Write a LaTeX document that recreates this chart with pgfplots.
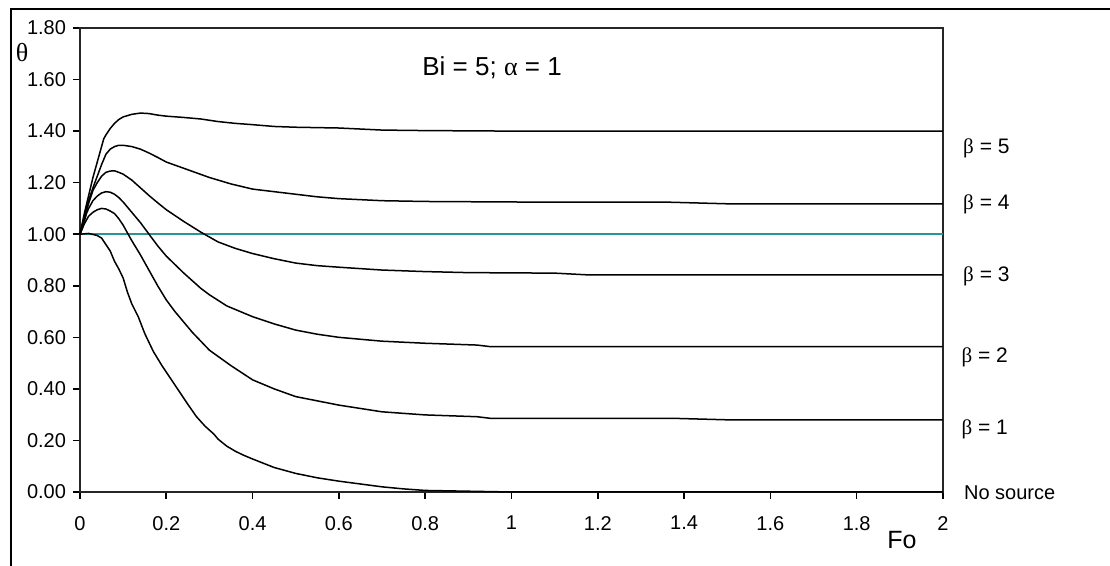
\documentclass[border=0pt]{standalone}
\usepackage{fontspec}
\setmainfont{Liberation Sans}
\newfontfamily\grk{Liberation Serif}
\usepackage{pgfplots}
\pgfplotsset{compat=1.18}
\definecolor{tealline}{RGB}{40,150,150}
\tikzset{curve/.style={black, line width=0.75pt, mark=none}}

\begin{document}
\begin{tikzpicture}
\useasboundingbox (-40pt,-37pt) rectangle (515pt,246pt);
\draw[line width=1pt] (-34.5pt,-40pt) -- (-34.5pt,241.5pt) -- (520pt,241.5pt);
\begin{axis}[
  scale only axis, width=431.5pt, height=232pt,
  xmin=0, xmax=2, ymin=0, ymax=1.8,
  xtick={0,0.2,0.4,0.6,0.8,1,1.2,1.4,1.6,1.8,2},
  ytick={0,0.2,0.4,0.6,0.8,1,1.2,1.4,1.6,1.8},
  tick align=outside, major tick length=3.5pt,
  xtick pos=bottom, ytick pos=left,
  axis line style={line width=1pt, black!85},
  tick style={line width=0.8pt, black},
  /pgf/number format/assume math mode=true,
  ticklabel style={font=\fontsize{10}{11}\selectfont},
  yticklabel style={/pgf/number format/.cd, fixed, fixed zerofill, precision=2},
  xticklabel style={yshift=-5pt, /pgf/number format/.cd, fixed, precision=1},
  clip=false,
]
% reference line
\addplot[tealline, line width=1.1pt, mark=none] coordinates {(0,1) (2,1)};
% no source
\addplot[curve] coordinates {(0,1.0) (0.02,1.003) (0.04,0.995) (0.05,0.985) (0.06,0.96) (0.07,0.935) (0.08,0.895) (0.09,0.865) (0.1,0.83) (0.11,0.775) (0.12,0.73) (0.135,0.68) (0.15,0.615) (0.17,0.545) (0.19,0.49) (0.21,0.44) (0.23,0.39) (0.25,0.34) (0.27,0.292) (0.29,0.255) (0.31,0.225) (0.32,0.205) (0.34,0.178) (0.36,0.158) (0.38,0.142) (0.4,0.128) (0.45,0.095) (0.5,0.072) (0.55,0.055) (0.6,0.042) (0.65,0.031) (0.7,0.02) (0.75,0.012) (0.8,0.006) (0.9,0.003) (1.0,0.0) (2.0,0.0)};
% beta = 1
\addplot[curve] coordinates {(0,1.0) (0.01,1.04) (0.02,1.07) (0.03,1.085) (0.04,1.095) (0.05,1.1) (0.06,1.098) (0.07,1.09) (0.08,1.08) (0.09,1.06) (0.1,1.035) (0.12,0.975) (0.14,0.92) (0.16,0.86) (0.18,0.8) (0.2,0.745) (0.22,0.7) (0.24,0.66) (0.26,0.62) (0.28,0.585) (0.3,0.55) (0.35,0.49) (0.4,0.435) (0.45,0.4) (0.5,0.37) (0.6,0.337) (0.7,0.311) (0.8,0.299) (0.92,0.292) (0.95,0.286) (1.37,0.286) (1.5,0.28) (2.0,0.28)};
% beta = 2
\addplot[curve] coordinates {(0,1.0) (0.005,1.025) (0.01,1.05) (0.015,1.08) (0.02,1.1) (0.03,1.13) (0.04,1.148) (0.05,1.16) (0.06,1.165) (0.07,1.163) (0.08,1.155) (0.09,1.142) (0.1,1.125) (0.12,1.085) (0.14,1.045) (0.16,1.0) (0.18,0.955) (0.2,0.915) (0.24,0.85) (0.28,0.79) (0.3,0.765) (0.34,0.722) (0.4,0.68) (0.45,0.652) (0.5,0.628) (0.55,0.612) (0.6,0.6) (0.7,0.585) (0.8,0.577) (0.92,0.57) (0.95,0.564) (2.0,0.564)};
% beta = 3
\addplot[curve] coordinates {(0,1.0) (0.005,1.03) (0.01,1.06) (0.02,1.12) (0.03,1.17) (0.04,1.2) (0.05,1.225) (0.06,1.24) (0.07,1.245) (0.08,1.246) (0.09,1.24) (0.1,1.233) (0.12,1.21) (0.14,1.18) (0.16,1.15) (0.18,1.122) (0.2,1.095) (0.24,1.05) (0.28,1.008) (0.32,0.97) (0.36,0.945) (0.4,0.925) (0.45,0.905) (0.5,0.888) (0.55,0.878) (0.6,0.872) (0.7,0.861) (0.8,0.855) (0.9,0.851) (1.1,0.849) (1.18,0.842) (2.0,0.842)};
% beta = 4
\addplot[curve] coordinates {(0,1.0) (0.005,1.035) (0.01,1.07) (0.02,1.13) (0.03,1.18) (0.04,1.225) (0.05,1.27) (0.06,1.31) (0.07,1.33) (0.08,1.34) (0.09,1.345) (0.1,1.345) (0.12,1.34) (0.14,1.33) (0.16,1.315) (0.18,1.298) (0.2,1.28) (0.25,1.25) (0.3,1.22) (0.35,1.195) (0.4,1.175) (0.45,1.165) (0.5,1.155) (0.55,1.145) (0.6,1.138) (0.7,1.13) (0.8,1.127) (1.0,1.125) (1.37,1.124) (1.5,1.118) (2.0,1.118)};
% beta = 5
\addplot[curve] coordinates {(0,1.0) (0.005,1.04) (0.01,1.08) (0.02,1.15) (0.03,1.22) (0.04,1.28) (0.05,1.34) (0.055,1.37) (0.06,1.385) (0.07,1.41) (0.08,1.43) (0.09,1.445) (0.1,1.455) (0.12,1.465) (0.14,1.47) (0.16,1.468) (0.18,1.462) (0.2,1.458) (0.24,1.453) (0.28,1.447) (0.32,1.437) (0.36,1.43) (0.4,1.425) (0.45,1.418) (0.5,1.415) (0.6,1.412) (0.7,1.404) (0.8,1.402) (1.0,1.4) (1.4,1.4) (2.0,1.4)};

\node[anchor=west, inner sep=0pt, font=\fontsize{10.5}{12}\selectfont] at (axis cs:2.046,1.334) {{\grk β} = 5};
\node[anchor=west, inner sep=0pt, font=\fontsize{10.5}{12}\selectfont] at (axis cs:2.046,1.117) {{\grk β} = 4};
\node[anchor=west, inner sep=0pt, font=\fontsize{10.5}{12}\selectfont] at (axis cs:2.046,0.838) {{\grk β} = 3};
\node[anchor=west, inner sep=0pt, font=\fontsize{10.5}{12}\selectfont] at (axis cs:2.042,0.524) {{\grk β} = 2};
\node[anchor=west, inner sep=0pt, font=\fontsize{10.5}{12}\selectfont] at (axis cs:2.042,0.244) {{\grk β} = 1};
\node[anchor=west, inner sep=0pt, font=\fontsize{10}{12}\selectfont] at (axis cs:2.048,-0.004) {No source};
\node[font=\fontsize{13}{15}\selectfont] at (axis cs:0.955,1.645) {Bi = 5; {\grk α} = 1};
\end{axis}
\node[font=\fontsize{13}{15}\selectfont\grk] at (-29pt,219.5pt) {θ};
\node[font=\fontsize{12.5}{14}\selectfont] at (411pt,-24pt) {Fo};
\end{tikzpicture}
\end{document}
